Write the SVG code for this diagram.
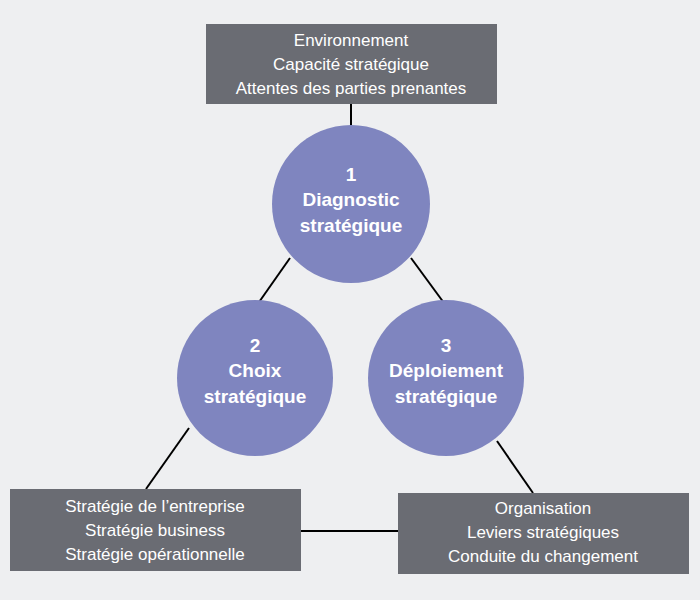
<svg xmlns="http://www.w3.org/2000/svg" width="700" height="600" viewBox="0 0 700 600">
<style>
.box{fill:#6a6c73}
.c{fill:#7f85bf}
.bt{font-family:"Liberation Sans",Arial,sans-serif;font-size:17px;fill:#fff;text-anchor:middle}
.ct{font-family:"Liberation Sans",Arial,sans-serif;font-size:19px;font-weight:bold;fill:#fff;text-anchor:middle}
.ln{stroke:#000;stroke-width:2;fill:none}
</style>
<rect width="700" height="600" fill="#eeeff1"/>
<g id="connectors">
<line class="ln" x1="351" y1="104" x2="351" y2="128"/>
<line class="ln" x1="290" y1="258" x2="257" y2="305"/>
<line class="ln" x1="411" y1="258" x2="444" y2="303"/>
<line class="ln" x1="189" y1="428" x2="146" y2="489"/>
<line class="ln" x1="497" y1="441" x2="533" y2="493"/>
<line class="ln" x1="301" y1="531" x2="398" y2="531"/>
</g>
<g id="top">
<rect class="box" x="206" y="24" width="291" height="80"/>
<text class="bt" x="351" y="46">Environnement</text>
<text class="bt" x="351" y="70">Capacité stratégique</text>
<text class="bt" x="351" y="94">Attentes des parties prenantes</text>
</g>
<g id="c1">
<circle class="c" cx="351" cy="204" r="79"/>
<text class="ct" x="351" y="181">1</text>
<text class="ct" x="351" y="206">Diagnostic</text>
<text class="ct" x="351" y="232">stratégique</text>
</g>
<g id="c2">
<circle class="c" cx="255" cy="378" r="78"/>
<text class="ct" x="255" y="352">2</text>
<text class="ct" x="255" y="377">Choix</text>
<text class="ct" x="255" y="403">stratégique</text>
</g>
<g id="c3">
<circle class="c" cx="446" cy="378" r="78"/>
<text class="ct" x="446" y="352">3</text>
<text class="ct" x="446" y="377">Déploiement</text>
<text class="ct" x="446" y="403">stratégique</text>
</g>
<g id="bl">
<rect class="box" x="10" y="489" width="291" height="82"/>
<text class="bt" x="155" y="512">Stratégie de l’entreprise</text>
<text class="bt" x="155" y="536">Stratégie business</text>
<text class="bt" x="155" y="560">Stratégie opérationnelle</text>
</g>
<g id="br">
<rect class="box" x="398" y="493" width="291" height="81"/>
<text class="bt" x="543" y="514">Organisation</text>
<text class="bt" x="543" y="538">Leviers stratégiques</text>
<text class="bt" x="543" y="562">Conduite du changement</text>
</g>
</svg>
